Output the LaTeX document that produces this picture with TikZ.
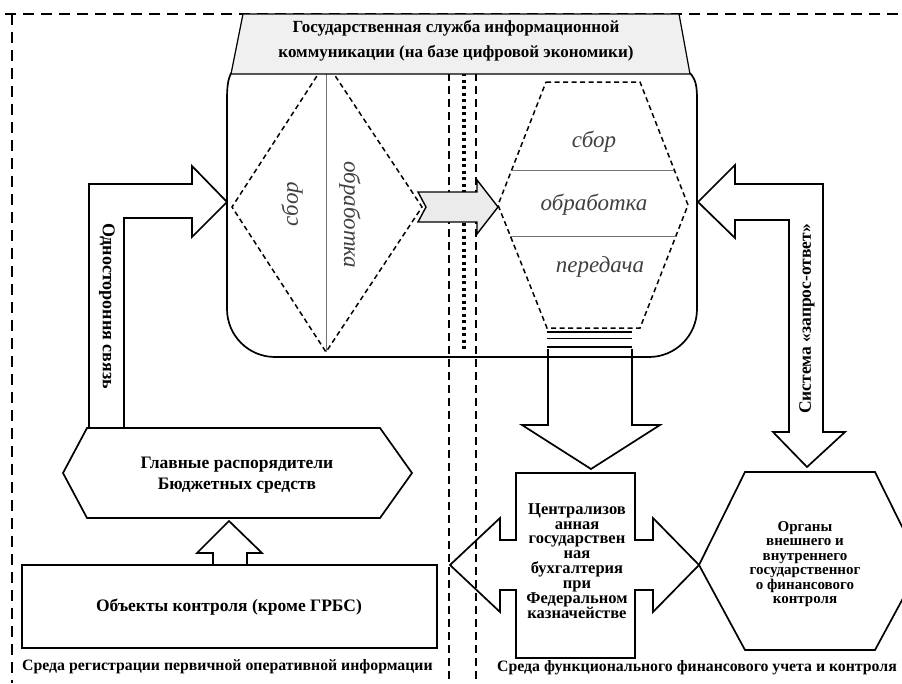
\documentclass[tikz,border=0pt]{standalone}
\usepackage{fontspec}
\setmainfont{Liberation Serif}

\begin{document}
\begin{tikzpicture}[x=1pt,y=-1pt,
	blk/.style={draw=black,line width=1.7pt,line join=miter},
	dsh/.style={draw=black,line width=1.5pt,dash pattern=on 5pt off 3.5pt},
	frame/.style={draw=black,line width=2pt,dash pattern=on 11pt off 7pt},
	txt/.style={inner sep=0pt,align=center,font=\bfseries\fontsize{17.5}{21}\selectfont},
	small/.style={inner sep=0pt,align=center,font=\bfseries\fontsize{16.5}{14.9}\selectfont},
	ital/.style={inner sep=0pt,text=black!75,font=\itshape\fontsize{23}{23}\selectfont},
	envtxt/.style={inner sep=0pt,font=\bfseries\fontsize{15.8}{16}\selectfont}]

	\useasboundingbox (0,0) rectangle (902,683);
	\clip (0,0) rectangle (902,683);

	%outer frame
	\draw[frame] (5,14) -- (900,14);
	\draw[frame] (12,14) -- (12,683);

	%dividers
	\draw[line width=1.3pt,dash pattern=on 8pt off 5pt] (449,73) -- (449,683);
	\draw[line width=1.3pt,dash pattern=on 8pt off 5pt] (476,73) -- (476,683);
	\draw[line width=3.2pt,dash pattern=on 3pt off 3.5pt] (464,73) -- (464,350);

	%service body
	\draw[line width=1.7pt,rounded corners=48pt] (697,100) -- (697,357) -- (227,357) -- (227,100);
	\draw[line width=1.7pt] (697,100) .. controls (697,86) and (696,80) .. (690,73);
	\draw[line width=1.7pt] (227,100) .. controls (227,86) and (228,80) .. (231,73);

	%left diamond
	\draw[dsh] (326,62) -- (422,207) -- (326,352) -- (232,207) -- cycle;
	\draw[black!55,line width=1pt] (326,62) -- (326,352);
	\node[ital,rotate=90] (dcollect) at (292,204) {сбор};
	\node[ital,rotate=-90] (dprocess) at (350,215) {обработка};

	%title
	\draw[line width=1.2pt,fill=black!6] (243,14) -- (679,14) -- (690,74) -- (231,74) -- cycle;
	\node[txt,font=\bfseries\fontsize{17}{25}\selectfont] (title) at (456,41)
		{Государственная служба информационной\\коммуникации (на базе цифровой экономики)};

	%right hexagon
	\draw[dsh] (546,82) -- (640,82) -- (688,205) -- (640,328) -- (547,328) -- (498,205) -- cycle;
	\draw[black!55,line width=1pt] (512,170) -- (674,170);
	\draw[black!55,line width=1pt] (510,236) -- (676,236);
	\node[ital] (hcollect) at (594,142) {сбор};
	\node[ital] (hprocess) at (594,205) {обработка};
	\node[ital] (hsend) at (600,267) {передача};

	%neck
	\draw[line width=2.5pt] (547,332) -- (632,332);
	\draw[line width=1pt] (547,338) -- (632,338);
	\draw[line width=1.6pt] (547,347) -- (632,347);

	%transfer arrow
	\draw[line width=1.4pt,fill=black!8] (418,192) -- (477,192) -- (477,180) -- (498,207)
		-- (477,234) -- (477,222) -- (418,222) -- (426,207) -- cycle;

	%one-way link
	\draw[blk] (89,427) -- (89,184) -- (192,184) -- (192,166) -- (227,202) -- (192,237)
		-- (192,218) -- (124,218) -- (124,427);
	\node[txt,rotate=-90,font=\bfseries\fontsize{18}{18}\selectfont] (oneway) at (107,306) {Одностороння связь};

	%request-response link
	\draw[blk] (698,202) -- (735,165) -- (735,184) -- (823,184) -- (823,432) -- (845,432)
		-- (807,467) -- (773,432) -- (789,432) -- (789,220) -- (735,220) -- (735,238) -- cycle;
	\node[txt,rotate=90,font=\bfseries\fontsize{17.5}{17.5}\selectfont] (reqresp) at (807,319) {Система «запрос-ответ»};

	%down arrow
	\draw[blk] (548,349) -- (548,425) -- (522,425) -- (591,469) -- (660,425) -- (632,425) -- (632,349);

	%treasury
	\draw[blk] (516,473) -- (635,473) -- (635,540) -- (653,540) -- (653,518) -- (699,565)
		-- (653,612) -- (653,590) -- (635,590) -- (635,658) -- (516,658) -- (516,590)
		-- (500,590) -- (500,612) -- (450,565) -- (500,518) -- (500,540) -- (516,540) -- cycle;
	\node[small] (treasury) at (577,561)
		{Централизов\\анная\\государствен\\ная\\бухгалтерия\\при\\Федеральном\\казначействе};

	%control bodies
	\draw[blk] (745,472) -- (875,472) -- (921,565) -- (875,650) -- (745,650) -- (699,565) -- cycle;
	\node[small,font=\bfseries\fontsize{15}{14.5}\selectfont] (control) at (805,564)
		{Органы\\внешнего и\\внутреннего\\государственног\\о финансового\\контроля};

	%budget holders
	\draw[blk] (87,428) -- (380,428) -- (412,473) -- (380,518) -- (87,518) -- (63,473) -- cycle;
	\node[txt] (grbs) at (237,475) {Главные распорядители\\Бюджетных средств};

	%objects
	\draw[blk] (213,565) -- (213,553) -- (197,553) -- (229,521) -- (262,553) -- (247,553) -- (247,565);
	\draw[blk] (22,565) rectangle (437,648);
	\node[txt] (objects) at (229,607) {Объекты контроля (кроме ГРБС)};

	%environments
	\node[envtxt,anchor=west] (envleft) at (22,667) {Среда регистрации первичной оперативной информации};
	\node[envtxt] (envright) at (697,668) {Среда функционального финансового учета и контроля};
\end{tikzpicture}
\end{document}
